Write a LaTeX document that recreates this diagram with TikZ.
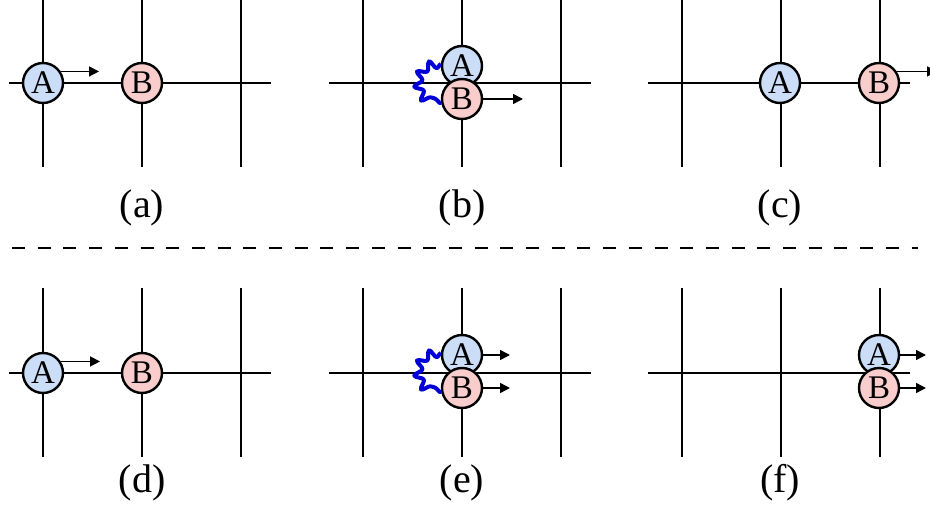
\documentclass[tikz,border=0pt]{standalone}
\usepackage{fontspec}
\setmainfont{Liberation Serif}
\usetikzlibrary{arrows.meta,decorations.pathmorphing}
\definecolor{ablue}{RGB}{204,221,248}
\definecolor{bpink}{RGB}{249,205,204}
\definecolor{springblue}{RGB}{0,0,215}
\tikzset{
  road/.style={line width=2.2pt},
  agent/.style={circle,draw,line width=2.4pt,minimum size=40pt,inner sep=0pt,
    font=\fontsize{33}{33}\selectfont},
  agA/.style={agent,fill=ablue},
  agB/.style={agent,fill=bpink},
  move/.style={-{Triangle[length=10pt,width=10pt]},line width=1.5pt},
  spring/.style={springblue,line width=4pt,line join=round,decorate,
    decoration={snake,amplitude=4pt,segment length=13pt}},
  caption/.style={font=\fontsize{40}{40}\selectfont}
}
% one crossing of three roads, shifted by (#1,#2)
\newcommand{\grid}[2]{%
  \begin{scope}[shift={(#1,#2)}]
    \foreach \gx in {43,142,241} \draw[road] (\gx,-2) -- (\gx,167);
    \draw[road] (9,83) -- (271,83);
  \end{scope}}

\begin{document}
\begin{tikzpicture}[x=1pt,y=-1pt]
  \useasboundingbox (0,0) rectangle (930,516);
  \grid{0}{0} \grid{320}{0} \grid{639}{0}
  \grid{0}{290} \grid{320}{290} \grid{639}{290}
  \draw[road,dash pattern=on 13pt off 12.7pt] (12,248) -- (918,248);

  % (a)
  \node[agA] (aA) at (43,83) {A};
  \node[agB] (aB) at (142,83) {B};
  \coordinate (aT) at (99,72);
  \draw[move] (aA.33) -- (aA.33 -| aT);
  \node[caption] (la) at (142,208) {(a)};

  % (b)
  \node[agA] (bA) at (462,66) {A};
  \node[agB] (bB) at (462,99) {B};
  \draw[spring] (bA.175) .. controls +(-26,0) and +(-26,0) .. (bB.190);
  \coordinate (bT) at (523,99);
  \draw[move] (bB.east) -- (bT);
  \node[caption] (lb) at (462,208) {(b)};

  % (c)
  \node[agA] (cA) at (780,83) {A};
  \node[agB] (cB) at (879,83) {B};
  \coordinate (cT) at (937,72);
  \draw[move] (cB.33) -- (cB.33 -| cT);
  \node[caption] (lc) at (780,208) {(c)};

  % (d)
  \node[agA] (dA) at (43,373) {A};
  \node[agB] (dB) at (142,373) {B};
  \coordinate (dT) at (100,362);
  \draw[move] (dA.33) -- (dA.33 -| dT);
  \node[caption] (ld) at (142,483) {(d)};

  % (e)
  \node[agA] (eA) at (462,355) {A};
  \node[agB] (eB) at (462,388) {B};
  \draw[spring] (eA.175) .. controls +(-26,0) and +(-26,0) .. (eB.190);
  \coordinate (eTA) at (510,355);
  \coordinate (eTB) at (510,388);
  \draw[move] (eA.east) -- (eTA);
  \draw[move] (eB.east) -- (eTB);
  \node[caption] (le) at (462,483) {(e)};

  % (f)
  \node[agA] (fA) at (879,355) {A};
  \node[agB] (fB) at (879,388) {B};
  \coordinate (fTA) at (926,355);
  \coordinate (fTB) at (926,388);
  \draw[move] (fA.east) -- (fTA);
  \draw[move] (fB.east) -- (fTB);
  \node[caption] (lf) at (780,483) {(f)};
\end{tikzpicture}
\end{document}
